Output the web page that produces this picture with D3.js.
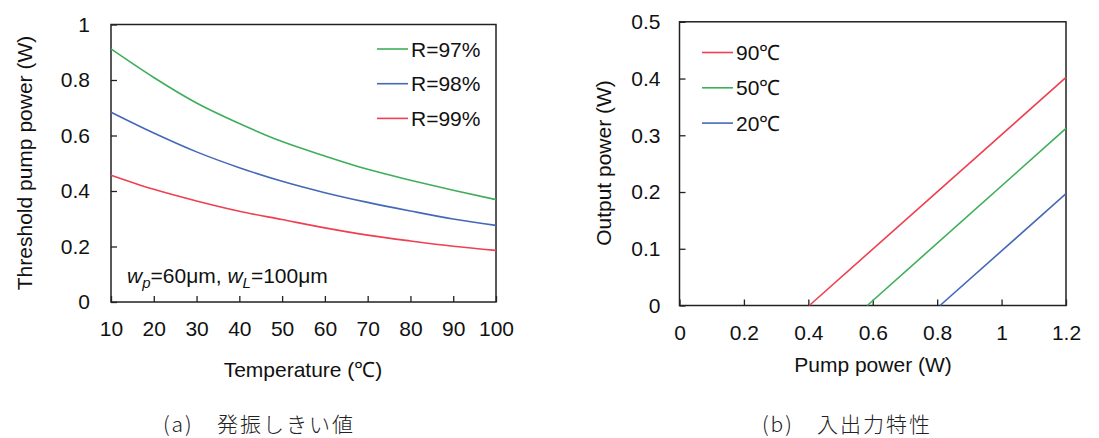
<!DOCTYPE html>
<html>
<head>
<meta charset="utf-8">
<script src="https://cdn.jsdelivr.net/npm/d3@7"></script>
<style>
body { margin: 0; background: #fff; }
</style>
</head>
<body>
<div id="chart"></div>
<script>
// (a) threshold pump power vs temperature
var temps = [10, 20, 30, 40, 50, 60, 70, 80, 90, 100];
var thr97 = [0.912, 0.809, 0.717, 0.643, 0.578, 0.526, 0.478, 0.439, 0.403, 0.369];
var thr98 = [0.684, 0.609, 0.541, 0.484, 0.435, 0.394, 0.359, 0.328, 0.299, 0.276];
var thr99 = [0.457, 0.406, 0.364, 0.327, 0.297, 0.267, 0.241, 0.220, 0.201, 0.186];
var seriesA = [
	{ name: "R=97%", color: "#3fae5a", values: thr97 },
	{ name: "R=98%", color: "#4468b8", values: thr98 },
	{ name: "R=99%", color: "#ee4050", values: thr99 }
];
var xTicksA = [10, 20, 30, 40, 50, 60, 70, 80, 90, 100];
var yTicksA = [0, 0.2, 0.4, 0.6, 0.8, 1];

// (b) output power vs pump power
var pump90 = [0.403, 1.2], out90 = [0, 0.402];
var pump50 = [0.583, 1.2], out50 = [0, 0.312];
var pump20 = [0.809, 1.2], out20 = [0, 0.197];
var seriesB = [
	{ name: "90\u2103", color: "#ee4050", x: pump90, y: out90 },
	{ name: "50\u2103", color: "#3fae5a", x: pump50, y: out50 },
	{ name: "20\u2103", color: "#4468b8", x: pump20, y: out20 }
];
var xTicksB = [0, 0.2, 0.4, 0.6, 0.8, 1, 1.2];
var yTicksB = [0, 0.1, 0.2, 0.3, 0.4, 0.5];

var FONT = "'Liberation Sans', Arimo, Arial, Helvetica, sans-serif";
var FS = "21px";

var W = 1099, H = 438;
var svg = d3.select("#chart").append("svg")
	.attr("width", W).attr("height", H);

function txt(sel) {
	return sel.attr("font-family", FONT).style("font-family", FONT)
		.style("font-size", FS).attr("fill", "#111");
}

function frame(g, x, y, xt, yt, padX, padY) {
	var x0 = x.range()[0], x1 = x.range()[1];
	var y0 = y.range()[0], y1 = y.range()[1];
	g.append("rect")
		.attr("x", x0).attr("y", y1)
		.attr("width", x1 - x0).attr("height", y0 - y1)
		.attr("fill", "none").attr("stroke", "#222").attr("stroke-width", 1.5);

	var ax = g.append("g").attr("transform", "translate(0," + y0 + ")")
		.call(d3.axisBottom(x).tickValues(xt).tickSize(-6).tickPadding(padX).tickFormat(d3.format("")));
	var ay = g.append("g").attr("transform", "translate(" + x0 + ",0)")
		.call(d3.axisLeft(y).tickValues(yt).tickSize(-6).tickPadding(padY).tickFormat(d3.format("")));
	[ax, ay].forEach(function(a) {
		a.attr("font-family", FONT);
		a.select(".domain").remove();
		a.selectAll(".tick line").attr("stroke", "#222").attr("stroke-width", 1.3);
		txt(a.selectAll(".tick text"));
	});
}

// ---- chart a
var xA = d3.scaleLinear().domain([10, 100]).range([111, 496]);
var yA = d3.scaleLinear().domain([0, 1]).range([302, 24.5]);
var gA = svg.append("g");
frame(gA, xA, yA, xTicksA, yTicksA, 19, 21);

var lineA = d3.line().curve(d3.curveMonotoneX)
	.x(function(d, i) { return xA(temps[i]); })
	.y(function(d) { return yA(d); });
gA.selectAll(".sa").data(seriesA).enter().append("path")
	.attr("d", function(s) { return lineA(s.values); })
	.attr("fill", "none").attr("stroke", function(s) { return s.color; })
	.attr("stroke-width", 1.6);

var legA = gA.selectAll(".la").data(seriesA).enter().append("g")
	.attr("transform", function(d, i) { return "translate(377," + (49 + i * 34.7) + ")"; });
legA.append("line").attr("x1", 0).attr("x2", 31).attr("y1", 0).attr("y2", 0)
	.attr("stroke", function(d) { return d.color; }).attr("stroke-width", 1.6);
txt(legA.append("text").attr("x", 34).attr("y", 7.5))
	.text(function(d) { return d.name; });

var note = txt(gA.append("text").attr("x", 127).attr("y", 283));
note.append("tspan").style("font-style", "italic").text("w");
note.append("tspan").style("font-style", "italic").style("font-size", "15px").attr("dy", 5).text("p");
note.append("tspan").attr("dy", -5).text("=60\u03bcm, ");
note.append("tspan").style("font-style", "italic").text("w");
note.append("tspan").style("font-style", "italic").style("font-size", "15px").attr("dy", 5).text("L");
note.append("tspan").attr("dy", -5).text("=100\u03bcm");

txt(gA.append("text").attr("x", 303).attr("y", 377).attr("text-anchor", "middle"))
	.text("Temperature (\u2103)");
txt(gA.append("text").attr("transform", "translate(32,163) rotate(-90)").attr("text-anchor", "middle"))
	.text("Threshold pump power (W)");

// ---- chart b
var xB = d3.scaleLinear().domain([0, 1.2]).range([679.5, 1066]);
var yB = d3.scaleLinear().domain([0, 0.5]).range([305.5, 21.8]);
var gB = svg.append("g");
frame(gB, xB, yB, xTicksB, yTicksB, 20, 19);

var lineB = d3.line()
	.x(function(d) { return xB(d[0]); })
	.y(function(d) { return yB(d[1]); });
gB.selectAll(".sb").data(seriesB).enter().append("path")
	.attr("d", function(s) { return lineB(d3.zip(s.x, s.y)); })
	.attr("fill", "none").attr("stroke", function(s) { return s.color; })
	.attr("stroke-width", 1.6);

var legB = gB.selectAll(".lb").data(seriesB).enter().append("g")
	.attr("transform", function(d, i) { return "translate(702," + (52.5 + i * 35.3) + ")"; });
legB.append("line").attr("x1", 0).attr("x2", 31).attr("y1", 0).attr("y2", 0)
	.attr("stroke", function(d) { return d.color; }).attr("stroke-width", 1.6);
txt(legB.append("text").attr("x", 34).attr("y", 7.5))
	.text(function(d) { return d.name; });

txt(gB.append("text").attr("x", 873).attr("y", 372).attr("text-anchor", "middle"))
	.text("Pump power (W)");
txt(gB.append("text").attr("transform", "translate(611,163) rotate(-90)").attr("text-anchor", "middle"))
	.text("Output power (W)");

// captions
var CJK = "'Noto Sans CJK JP', sans-serif";
function caption(x, label, x2, title) {
	svg.append("text").attr("x", x).attr("y", 432)
		.style("font-family", CJK).style("font-weight", 300).style("font-size", "21px")
		.style("letter-spacing", "2px").attr("fill", "#222").text(label);
	svg.append("text").attr("x", x2).attr("y", 432)
		.style("font-family", CJK).style("font-weight", 300).style("font-size", "21px")
		.style("letter-spacing", "2px").attr("fill", "#222").text(title);
}
caption(163, "(a)", 217, "発振しきい値");
caption(762, "(b)", 817, "入出力特性");
</script>
</body>
</html>
